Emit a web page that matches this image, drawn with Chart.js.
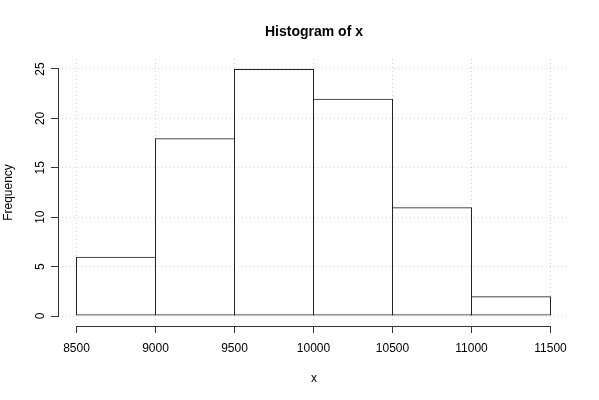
<!DOCTYPE html>
<html>
<head>
<meta charset="utf-8">
<script src="https://cdn.jsdelivr.net/npm/chart.js@4.4.1/dist/chart.umd.min.js"></script>
<style>
html,body{margin:0;padding:0;background:#ffffff;}
#wrap{width:599px;height:400px;}
canvas{display:block;}
</style>
</head>
<body>
<div id="wrap"><canvas id="c" width="599" height="400"></canvas></div>
<script>
// ---- data ----
const breaks = [8500, 9000, 9500, 10000, 10500, 11000, 11500];
const counts = [6, 18, 25, 22, 11, 2];
const xTicks = [8500, 9000, 9500, 10000, 10500, 11000, 11500];
const yTicks = [0, 5, 10, 15, 20, 25];
const titleText = 'Histogram of x';
const xLabel = 'x';
const yLabel = 'Frequency';

const FONT = '"Liberation Sans", Arial, Helvetica, sans-serif';
const barData = counts.map((c, i) => ({ x: (breaks[i] + breaks[i + 1]) / 2, y: c }));

// axis range like R's 4% extension, tuned to the pixel grid
const xMin = 8382.911, xMax = 11623.418;
const yMin = -1.0121, yMax = 26.0121;

const rPlugin = {
  id: 'rAxes',
  afterDraw(chart) {
    const { ctx, chartArea, scales } = chart;
    const x = scales.x, y = scales.y;
    const al = (p) => Math.round(p - 0.5) + 0.5;
    ctx.save();
    ctx.strokeStyle = '#333333';
    ctx.lineWidth = 1;
    // x axis line (from first to last tick)
    const yb = Math.round(chartArea.bottom) + 0.5;
    ctx.beginPath();
    ctx.moveTo(al(x.getPixelForValue(xTicks[0])) - 0.5, yb);
    ctx.lineTo(al(x.getPixelForValue(xTicks[xTicks.length - 1])) + 0.5, yb);
    ctx.stroke();
    // y axis line
    const xl = Math.round(chartArea.left) + 0.5;
    ctx.beginPath();
    ctx.moveTo(xl, al(y.getPixelForValue(yTicks[0])) + 0.5);
    ctx.lineTo(xl, al(y.getPixelForValue(yTicks[yTicks.length - 1])) - 0.5);
    ctx.stroke();

    // y tick labels, rotated
    ctx.fillStyle = '#000000';
    ctx.font = '12px ' + FONT;
    ctx.textAlign = 'center';
    ctx.textBaseline = 'alphabetic';
    yTicks.forEach(v => {
      const py = y.getPixelForValue(v);
      ctx.save();
      ctx.translate(43.5, py);
      ctx.rotate(-Math.PI / 2);
      ctx.fillText(String(v), 0, 0);
      ctx.restore();
    });
    // y axis title
    ctx.save();
    ctx.translate(12, (chartArea.top + chartArea.bottom) / 2);
    ctx.rotate(-Math.PI / 2);
    ctx.fillText(yLabel, 0, 0);
    ctx.restore();
    // x axis title
    ctx.fillText(xLabel, (chartArea.left + chartArea.right) / 2, 381.5);
    ctx.restore();
  }
};

new Chart(document.getElementById('c'), {
  type: 'bar',
  data: {
    datasets: [{
      data: barData,
      backgroundColor: 'rgba(255,255,255,0)',
      borderColor: '#222222',
      borderWidth: 1,
      borderSkipped: false,
      inflateAmount: 0,
      barPercentage: 80 / 79,
      categoryPercentage: 1
    }]
  },
  options: {
    responsive: false,
    animation: false,
    devicePixelRatio: 1,
    layout: { padding: { left: 58, right: 29, top: 0, bottom: 0 } },
    plugins: {
      legend: { display: false },
      tooltip: { enabled: false },
      title: {
        display: true,
        text: titleText,
        color: '#000000',
        font: { family: FONT, size: 14, weight: 'bold', lineHeight: 1.2 },
        padding: { top: 23.6, bottom: 18.6 }
      }
    },
    scales: {
      x: {
        type: 'linear',
        min: xMin,
        max: xMax,
        offset: false,
        afterBuildTicks: s => { s.ticks = xTicks.map(v => ({ value: v })); },
        afterFit: s => { s.height = 74; },
        grid: {
          offset: false,
          color: '#d3d3d3',
          lineWidth: 1,
          drawTicks: true,
          tickLength: 7,
          tickColor: '#333333',
          tickBorderDash: [],
          tickWidth: 1
        },
        border: { display: false, dash: [1, 3] },
        ticks: {
          color: '#000000',
          font: { family: FONT, size: 12 },
          padding: 8,
          maxRotation: 0,
          minRotation: 0,
          autoSkip: false,
          callback: v => String(v)
        }
      },
      y: {
        type: 'linear',
        min: yMin,
        max: yMax,
        afterBuildTicks: s => { s.ticks = yTicks.map(v => ({ value: v })); },
        afterFit: s => { s.width = 0; },
        grid: {
          color: '#d3d3d3',
          lineWidth: 1,
          drawTicks: true,
          tickLength: 7,
          tickColor: '#333333',
          tickBorderDash: [],
          tickWidth: 1
        },
        border: { display: false, dash: [1, 3] },
        ticks: { display: false }
      }
    }
  },
  plugins: [rPlugin]
});
</script>
</body>
</html>
